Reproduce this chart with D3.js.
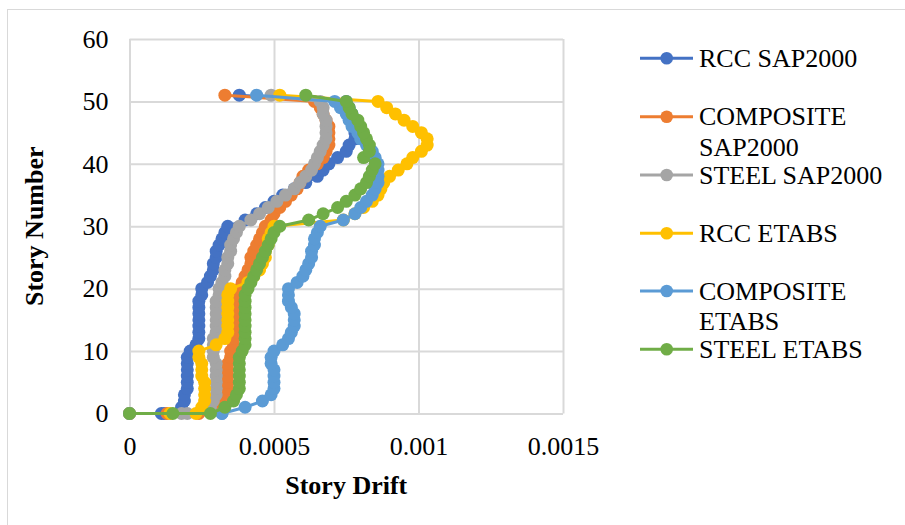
<!DOCTYPE html>
<html><head><meta charset="utf-8">
<script src="https://cdn.jsdelivr.net/npm/d3@7/dist/d3.min.js"></script>
<style>
body{margin:0;background:#fff;}
text{font-family:"Liberation Serif","Times New Roman",serif;fill:#000;}
</style>
</head><body>
<svg id="chart" width="905" height="525"></svg>
<script>
// ---------- DATA ----------
const stories = [0,0,0,1,2,3,4,5,6,7,8,9,10,11,12,13,14,15,16,17,18,19,20,21,22,23,24,25,26,27,28,29,30,31,32,33,34,35,36,37,38,39,40,41,42,43,44,45,46,47,48,49,50,51];

const rccSap = [0,0.00011,0.00012,
 0.00018,0.00019,0.00019,0.0002,0.0002,0.0002,0.0002,0.0002,0.0002,0.00021,
 0.00023,0.00024,0.00024,0.00024,0.00024,0.00024,0.00024,0.00024,0.00025,0.00025,
 0.00027,0.00028,0.00029,0.00029,0.0003,0.0003,0.00031,0.00032,0.00033,0.00034,
 0.0004,0.00044,0.00047,0.0005,0.00053,0.00057,0.00061,0.00065,0.00067,0.00069,
 0.00072,0.00075,0.00076,0.00078,0.00078,0.00078,0.00077,0.00077,0.00076,0.00075,0.00038];

const compositeSap = [0,0.00013,0.00024,
 0.00032,0.00033,0.00034,0.00034,0.00034,0.00034,0.00034,0.00034,0.00035,0.00035,
 0.00036,0.00036,0.00037,0.00037,0.00037,0.00037,0.00037,0.00037,0.00037,0.00038,
 0.00039,0.0004,0.00041,0.00042,0.00042,0.00043,0.00044,0.00045,0.00046,0.00047,
 0.00049,0.0005,0.00052,0.00054,0.00056,0.00058,0.00059,0.0006,0.00062,0.00065,
 0.00067,0.00068,0.00069,0.00069,0.00069,0.00069,0.00068,0.00067,0.00066,0.00064,0.00033];

const steelSap = [0,0.00018,0.0002,
 0.00028,0.00029,0.0003,0.0003,0.0003,0.0003,0.0003,0.0003,0.00029,0.00029,
 0.00029,0.00029,0.0003,0.0003,0.0003,0.0003,0.0003,0.0003,0.00031,0.00031,
 0.00032,0.00033,0.00033,0.00034,0.00034,0.00035,0.00035,0.00036,0.00037,0.00038,
 0.00042,0.00045,0.00048,0.00051,0.00054,0.00057,0.00059,0.00061,0.00063,0.00064,
 0.00065,0.00066,0.00067,0.00068,0.00068,0.00068,0.00068,0.00067,0.00067,0.00066,0.00049];

const rccEtabs = [0,0.00014,0.00023,
 0.00025,0.00026,0.00026,0.00026,0.00026,0.00025,0.00025,0.00025,0.00024,0.00024,
 0.0003,0.00033,0.00034,0.00034,0.00034,0.00034,0.00034,0.00034,0.00034,0.00035,
 0.00041,0.00043,0.00045,0.00046,0.00047,0.00047,0.00048,0.00048,0.00049,0.0005,
 0.00074,0.00078,0.00081,0.00084,0.00086,0.00087,0.00088,0.0009,0.00093,0.00096,
 0.00098,0.00101,0.00103,0.00103,0.00101,0.00098,0.00095,0.00092,0.00089,0.00086,0.00052];

const compositeEtabs = [0,0.00032,0.00032,
 0.0004,0.00046,0.00049,0.0005,0.0005,0.0005,0.0005,0.00049,0.00049,0.0005,
 0.00053,0.00055,0.00056,0.00057,0.00057,0.00057,0.00056,0.00055,0.00055,0.00055,
 0.00058,0.0006,0.00061,0.00062,0.00063,0.00063,0.00064,0.00064,0.00065,0.00066,
 0.00074,0.00078,0.0008,0.00082,0.00084,0.00085,0.00086,0.00086,0.00086,0.00086,
 0.00085,0.00084,0.00082,0.0008,0.00079,0.00077,0.00076,0.00075,0.00073,0.00071,0.00044];

const steelEtabs = [0,0.00015,0.00028,
 0.00033,0.00036,0.00037,0.00038,0.00038,0.00038,0.00038,0.00038,0.00038,0.00039,
 0.0004,0.0004,0.0004,0.0004,0.0004,0.0004,0.0004,0.0004,0.0004,0.00041,
 0.00042,0.00043,0.00044,0.00045,0.00046,0.00047,0.00048,0.00049,0.0005,0.00052,
 0.00062,0.00067,0.00072,0.00075,0.00078,0.0008,0.00082,0.00083,0.00084,0.00085,
 0.00081,0.00083,0.00083,0.00082,0.00081,0.0008,0.00079,0.00077,0.00076,0.00075,0.00061];

const seriesNames = ["RCC SAP2000","COMPOSITE SAP2000","STEEL SAP2000","RCC ETABS","COMPOSITE ETABS","STEEL ETABS"];
const legendLines = [["RCC SAP2000"],["COMPOSITE","SAP2000"],["STEEL SAP2000"],["RCC ETABS"],["COMPOSITE","ETABS"],["STEEL ETABS"]];
const seriesValues = [rccSap, compositeSap, steelSap, rccEtabs, compositeEtabs, steelEtabs];
const seriesColors = ["#4472C4","#ED7D31","#A5A5A5","#FFC000","#5B9BD5","#70AD47"];

const xTicks = [0,0.0005,0.001,0.0015];
const xTickLabels = ["0","0.0005","0.001","0.0015"];
const yTicks = [0,10,20,30,40,50,60];
const xTitle = "Story Drift";
const yTitle = "Story Number";

// ---------- CHART ----------
const svg = d3.select("#chart");
const FS = 26;
const plot = {left:129.5, right:563, top:39, bottom:413.5};

svg.append("rect").attr("x",0).attr("y",0).attr("width",905).attr("height",525).attr("fill","#fff");
svg.append("rect").attr("x",7.5).attr("y",9.5).attr("width",1000).attr("height",1000)
  .attr("fill","none").attr("stroke","#D9D9D9").attr("stroke-width",1);

const x = d3.scaleLinear().domain([0,0.0015]).range([plot.left, plot.right]);
const y = d3.scaleLinear().domain([0,60]).range([plot.bottom, plot.top]);

// gridlines + axes
const xAxis = d3.axisBottom(x).tickValues(xTicks)
  .tickSize(-(plot.bottom-plot.top)).tickPadding(23)
  .tickFormat((d,i)=>xTickLabels[i]);
const gx = svg.append("g").attr("transform",`translate(0,${plot.bottom})`).call(xAxis);
gx.select(".domain").remove();
gx.selectAll("line").attr("stroke","#D9D9D9").attr("stroke-width",2);
gx.selectAll("text").attr("font-size",FS).attr("font-family","Liberation Serif, serif").attr("fill","#000");

const yAxis = d3.axisLeft(y).tickValues(yTicks)
  .tickSize(-(plot.right-plot.left)).tickPadding(21)
  .tickFormat(d=>String(d));
const gy = svg.append("g").attr("transform",`translate(${plot.left},0)`).call(yAxis);
gy.select(".domain").remove();
gy.selectAll("line").attr("stroke","#D9D9D9").attr("stroke-width",2);
gy.selectAll("text").attr("font-size",FS).attr("font-family","Liberation Serif, serif").attr("fill","#000");

// titles
svg.append("text").attr("x",(plot.left+plot.right)/2).attr("y",494)
  .attr("text-anchor","middle").attr("font-size",FS).attr("font-weight","bold").text(xTitle);
svg.append("text").attr("transform",`translate(43,${(plot.top+plot.bottom)/2}) rotate(-90)`)
  .attr("text-anchor","middle").attr("font-size",FS).attr("font-weight","bold").text(yTitle);

// series
const line = d3.line().x(d=>x(d[0])).y(d=>y(d[1]));
seriesValues.forEach((vals,si)=>{
  const pts = vals.map((v,i)=>[v,stories[i]]);
  const g = svg.append("g");
  g.append("path").attr("d",line(pts)).attr("fill","none")
    .attr("stroke",seriesColors[si]).attr("stroke-width",3).attr("stroke-linejoin","round");
  g.selectAll("circle").data(pts).join("circle")
    .attr("cx",d=>x(d[0])).attr("cy",d=>y(d[1])).attr("r",6.5)
    .attr("fill",seriesColors[si]);
});

// legend
const legY = [58.3,116.7,175,233.3,291,349.3];
legendLines.forEach((lines,i)=>{
  const g = svg.append("g");
  g.append("line").attr("x1",640).attr("x2",693).attr("y1",legY[i]).attr("y2",legY[i])
    .attr("stroke",seriesColors[i]).attr("stroke-width",3);
  g.append("circle").attr("cx",666.7).attr("cy",legY[i]).attr("r",6.3).attr("fill",seriesColors[i]);
  const t = g.append("text").attr("x",699).attr("y",legY[i]+8.7).attr("font-size",FS);
  lines.forEach((s,j)=>{
    t.append("tspan").attr("x",699).attr("dy",j===0?0:30.3).text(s);
  });
});
</script>
</body></html>
